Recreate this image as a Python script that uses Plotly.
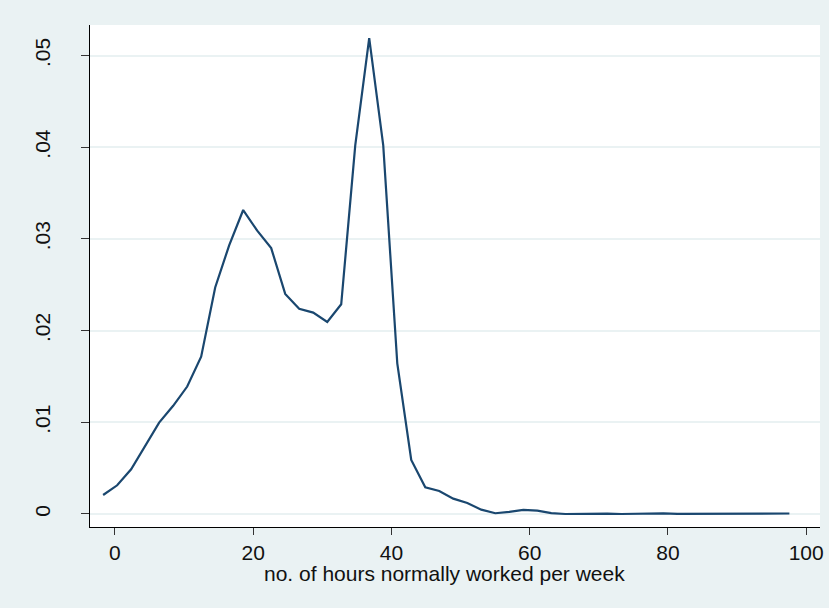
import plotly.graph_objects as go

hours = [-1.70, 0.33, 2.35, 4.38, 6.40, 8.43, 10.46, 12.48, 14.51, 16.53,
         18.56, 20.59, 22.61, 24.64, 26.66, 28.69, 30.72, 32.74, 34.77, 36.79,
         38.82, 40.85, 42.87, 44.90, 46.92, 48.95, 50.98, 53.00, 55.03, 57.05,
         59.08, 61.11, 63.13, 65.16, 67.18, 69.21, 71.24, 73.26, 75.29, 77.31,
         79.34, 81.37, 83.39, 85.42, 87.44, 89.47, 91.50, 93.52, 95.55, 97.57]

density = [0.00207, 0.00313, 0.00487, 0.0074, 0.00996, 0.0118, 0.0139, 0.01716, 0.0247, 0.0293,
           0.03315, 0.0309, 0.0290, 0.0240, 0.02239, 0.02196, 0.02094, 0.02287, 0.0402, 0.0519,
           0.0402, 0.01643, 0.00589, 0.00291, 0.00251, 0.00167, 0.0012, 0.00047, 0.00008, 0.00022,
           0.00044, 0.00036, 0.0001, 0.0, 0.00003, 0.00003, 0.00003, 0.0, 0.00003, 0.00007,
           0.00007, 0.00001, 0.00001, 0.00001, 0.00001, 0.00001, 0.00001, 0.00005, 0.00005, 0.00005]

x_ticks = [0, 20, 40, 60, 80, 100]
y_ticks = [0, 0.01, 0.02, 0.03, 0.04, 0.05]
y_tick_labels = ["0", ".01", ".02", ".03", ".04", ".05"]
x_title = "no. of hours normally worked per week"

BG = "#EAF2F3"
LINE = "#1A476F"
FONT = "Liberation Sans, Arial, sans-serif"

fig = go.Figure()
fig.add_trace(go.Scatter(x=hours, y=density, mode="lines",
                         line=dict(color=LINE, width=2.2), showlegend=False))

fig.update_layout(
    width=829, height=608,
    paper_bgcolor=BG, plot_bgcolor="white",
    margin=dict(l=90, r=9, t=25, b=81),
    font=dict(family=FONT, size=21, color="#111111"),
)
fig.add_annotation(
    text=x_title, xref="paper", yref="paper", x=0.486, y=0,
    xanchor="center", yanchor="middle", yshift=-46, showarrow=False,
    font=dict(size=21),
)
fig.update_xaxes(
    range=[-3.6, 102], tickmode="array", tickvals=x_ticks,
    showgrid=False, zeroline=False, automargin=False,
    showline=True, linecolor="black", linewidth=1.3,
    ticks="outside", ticklen=7, tickcolor="#333333", tickwidth=1.3,
    tickfont=dict(size=21),
)
fig.update_yaxes(
    range=[-0.00142, 0.05333], tickmode="array", tickvals=y_ticks, ticktext=y_tick_labels,
    tickangle=-90,
    showgrid=True, gridcolor=BG, gridwidth=1.5, zeroline=False, automargin=False,
    showline=True, linecolor="black", linewidth=1.3,
    ticks="outside", ticklen=8, tickcolor="#333333", tickwidth=1.3,
    tickfont=dict(size=21), ticklabelstandoff=22,
)

fig.write_html(
    "out.html",
    config={"displayModeBar": False},
    post_script="document.body.style.margin='0px';document.body.style.background='#EAF2F3';",
)
